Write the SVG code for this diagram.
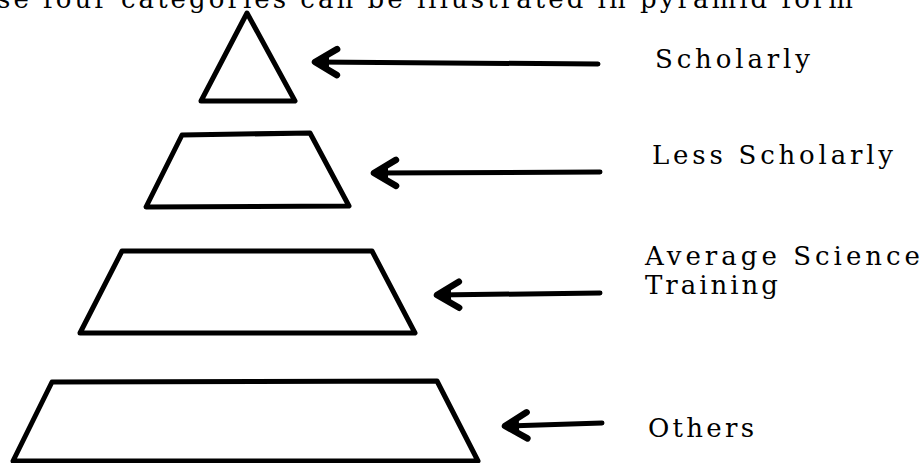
<svg xmlns="http://www.w3.org/2000/svg" width="923" height="463" viewBox="0 0 923 463">
<style>
  .shape { fill: none; stroke: #000; stroke-width: 5; stroke-linejoin: round; stroke-linecap: round; }
  .conn { fill: none; stroke: #000; stroke-width: 5; stroke-linecap: round; }
  .lbl { font-family: 'DejaVu Serif', 'Liberation Serif', serif; font-size: 26px; fill: #000; }
</style>
<defs>
  <marker id="ah" viewBox="0 0 32 34" refX="27" refY="17" markerWidth="32" markerHeight="34" markerUnits="userSpaceOnUse" orient="auto-start-reverse">
    <path d="M5,4 L27,17 L5,30" fill="none" stroke="#000" stroke-width="6.5" stroke-linecap="round" stroke-linejoin="round"/>
    <path d="M27,17 L13,9 L13,25 Z" fill="#000"/>
  </marker>
</defs>
<rect width="923" height="463" fill="#fff"/>
<text class="lbl" x="-3" y="8" textLength="856" lengthAdjust="spacing">se four categories can be illustrated in pyramid form</text>

<g id="scholarly">
  <polygon class="shape" points="247,13 295,101 201,101"/>
  <text class="lbl" x="655" y="68" textLength="155" lengthAdjust="spacing">Scholarly</text>
</g>
<g id="less-scholarly">
  <polygon class="shape" points="182,135 310,133 349,206 146,207"/>
  <text class="lbl" x="652" y="164" textLength="241" lengthAdjust="spacing">Less Scholarly</text>
</g>
<g id="average-science-training">
  <polygon class="shape" points="122,251 372,251 415,333 80,333"/>
  <text class="lbl" x="645" y="265" textLength="275" lengthAdjust="spacing">Average Science</text>
  <text class="lbl" x="645" y="294" textLength="133" lengthAdjust="spacing">Training</text>
</g>
<g id="others">
  <polygon class="shape" points="52,382 437,381 478,461 13,461"/>
  <text class="lbl" x="648" y="437" textLength="106" lengthAdjust="spacing">Others</text>
</g>

<g id="connectors">
  <path class="conn" d="M315,62 L598,64" marker-start="url(#ah)"/>
  <path class="conn" d="M374,173 L600,172" marker-start="url(#ah)"/>
  <path class="conn" d="M437,295 L600,293" marker-start="url(#ah)"/>
  <path class="conn" d="M505,426 L602,423" marker-start="url(#ah)"/>
</g>
</svg>
